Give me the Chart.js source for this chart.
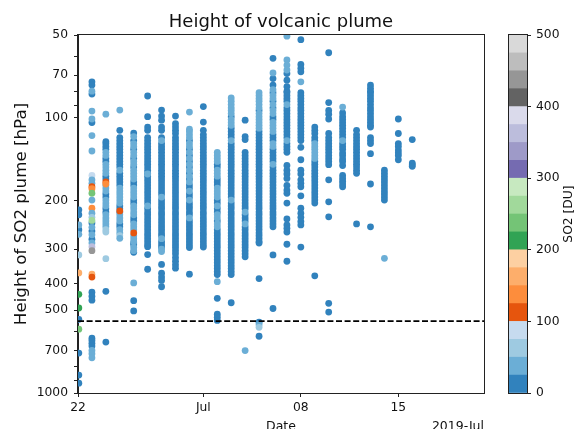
<!DOCTYPE html>
<html>
<head>
<meta charset="utf-8">
<script src="https://cdn.jsdelivr.net/npm/chart.js@4.4.1/dist/chart.umd.min.js"></script>
<style>
  html, body { margin: 0; padding: 0; background: #fff; }
  #wrap { position: relative; width: 575px; height: 429px; overflow: hidden; }
  #wrap canvas { position: absolute; left: 0; top: 0; }
</style>
</head>
<body>
<div id="wrap">
  <canvas id="plume" width="575" height="429"></canvas>
  <canvas id="cbar" width="575" height="429"></canvas>
</div>
<script>
// x = days since 2019-06-22, one column of retrievals per day
const dayTicks = [0, 9, 16, 23];
const dayTickLabels = ["22", "Jul", "08", "15"];
const dayMax = 29.15;

const hpaTicks = [50, 60, 70, 80, 90, 100, 200, 300, 400, 500, 600, 700, 800, 900, 1000];
const hpaLabels = [50, 70, 100, 200, 300, 400, 500, 700, 1000];
const cutoffHpa = 548;

// per day: dark = low-SO2 retrievals (hPa), tint = [hPa, SO2 DU] for the brighter ones
const jun22 = { dark: [216,225,255,540,716,861,921],
  tint: [[245,35],[265,35],[315,60],[366,160],[438,210],[491,210],[586,235]] };
const jun23 = { dark: [74,76,82,104,241,258,276,430,445,460,632,645,660,675],
  tint: [[80,35],[94.5,35],[101,35],[116,35],[132,35],[162,85],[168,35],[173,35],[178,110],[181,135],[188,235],[199,35],[213,135],[222,35],[230,60],[236,260],[250,35],[266,35],[285,35],[294,360],[304,440],[370,160],[379,110],[700,35],[720,35],[745,35]] };
const jun24 = { dark: [122,124,127,130,140.5,144,163,167,189,194,214,220,427,653],
  tint: [[97,35],[133.5,35],[137,35],[147.5,35],[151,35],[155,35],[159,35],[175.5,35],[180,35],[184.5,35],[199,35],[204,35],[209,35],[225,35],[231,35],[237,35],[243,35],[249,35],[255,60],[260,60],[171,110],[174,135],[325,60]] };
const jun25 = { dark: [111,118,121,124,127,130,133.5,137,140.5,144,147.5,151,159,163,167,171,175.5,209,214,220,243,249],
  tint: [[93.7,35],[155,35],[180,35],[184.5,35],[189,35],[194,35],[199,35],[204,35],[225,35],[231,35],[237,35],[255,35],[262,35],[268,60],[274,35],[218,110]] };
const jun26 = { dark: [113.6,121,130,140.5,151,171,175.5,199,204,231,237,285,289,308,462,503],
  tint: [[117,35],[124,35],[127,35],[133.5,35],[137,35],[144,35],[147.5,35],[155,35],[159,35],[163,35],[167,35],[180,35],[184.5,35],[189,35],[194,35],[209,35],[214,35],[220,35],[225,35],[243,35],[249,35],[255,35],[268,35],[275,35],[282,35],[296,35],[304,35],[262,110],[398,35]] };
const jun27 = { dark: [83.3,99,108,111,118,121,124,127,130,133.5,137,140.5,144,147.5,151,155,159,163,167,171,175.5,180,184.5,189,194,199,204,214,220,225,231,237,243,249,255,262,268,275,282,289,294,314,355],
  tint: [[209,35],[160,35]] };
const jun28 = { dark: [93.7,98.5,102,108,111,118,124,127,130,133.5,137,140.5,144,147.5,151,155,159,163,167,171,175.5,180,184.5,189,199,204,209,214,220,225,231,237,243,249,255,262,268,282,289,296,341,367,379,390,411],
  tint: [[121,35],[194,35],[275,35],[300,35],[306,35]] };
const jun29 = { dark: [98.5,105,108,111,114,118,121,124,127,130,133.5,137,140.5,144,147.5,151,155,159,163,167,171,175.5,180,184.5,189,194,199,204,209,214,220,225,231,237,243,249,255,262,268,275,282,289,296,304,312,322,332,342,352],
  tint: [] };
const jun30 = { dark: [121,130,137,144,151,159,167,175.5,180,189,194,204,209,214,220,225,237,243,249,255,262,268,275,282,289,296,370],
  tint: [[95.3,35],[110,35],[112,35],[115,35],[118,35],[124,35],[127,35],[133.5,35],[140.5,35],[147.5,35],[155,35],[163,35],[171,35],[184.5,35],[199,35],[231,35]] };
const jul01 = { dark: [91,103.6,111,115,118,121,124,127,130,133.5,137,140.5,144,147.5,151,155,159,163,167,171,175.5,180,184.5,189,194,199,204,209,214,220,225,231,237,243,249,255,262,268,275,282,289,295],
  tint: [] };
const jul02 = { dark: [147.5,151,167,171,175.5,199,204,214,220,237,255,262,268,275,282,289,296,304,312,320,328,336,345,353,362,371,453,517,530,545],
  tint: [[133.5,35],[137,35],[140.5,35],[144,35],[155,35],[159,35],[163,35],[180,35],[184.5,35],[189,35],[194,35],[209,35],[225,35],[231,35],[243,35],[249,35],[394,35]] };
const jul03 = { dark: [99,109,112,115,118,124,127,130,133.5,137,140.5,144,147.5,151,155,159,163,167,171,175.5,180,184.5,189,194,204,209,214,220,225,231,237,243,249,255,262,268,275,282,289,296,304,312,320,328,336,345,353,362,371,470],
  tint: [[84.7,35],[87,35],[89.5,35],[92,35],[94,35],[96.5,35],[101.5,35],[104,35],[106.5,35],[121,35],[199,35]] };
const jul04 = { dark: [102,117,120,133.5,137,140.5,144,147.5,151,155,159,163,167,171,175.5,180,184.5,189,194,199,204,209,214,225,231,237,249,255,262,268,275,282,289,296,304,312,320],
  tint: [[220,35],[243,35],[701,35]] };
const jul05 = { dark: [94,112,115,118,121,124,127,130,133.5,137,140.5,144,147.5,151,155,159,163,167,171,175.5,180,184.5,189,194,199,204,209,214,220,225,231,237,243,249,255,262,268,275,282,285,384,553,622],
  tint: [[81,35],[83,35],[85,35],[87,35],[89.5,35],[92,35],[96.5,35],[99,35],[101.5,35],[104,35],[106.5,35],[109,35],[565,35],[577,60]] };
const jul06 = { dark: [60.8,72,76,81,87,92,99,101.5,115,118,121,130,133.5,137,140.5,144,151,155,159,163,167,171,175.5,180,184.5,189,194,199,204,209,214,220,225,231,237,243,249,315,493],
  tint: [[68.7,35],[79,35],[83,35],[85,35],[89.5,35],[94,35],[96.5,35],[104,35],[106.5,35],[109,35],[112,35],[124,35],[127,35],[147.5,35]] };
const jul07 = { dark: [69,73,77,80,81,83,85,87,92,94,96.5,99,101.5,104,106.5,109,112,115,118,124,127,130,133.5,149,155,160,166,176,183,188,204,233,245,252,260,288,332],
  tint: [[50.5,35],[61.6,35],[64.3,35],[67,35],[89.5,35],[121,35]] };
const jul08 = { dark: [52,64,66,68,81,83,85,87,89.5,92,94,96.5,99,101.5,104,106.5,109,112,115,118,121,128,142,155,160,168,173,178,192,213,222,230,238,245,295],
  tint: [[74,35]] };
const jul09 = { dark: [108,111,114,118,121,144,147.5,151,155,159,163,167,171,175.5,180,184.5,189,194,199,204,375],
  tint: [[124,35],[127,35],[130,35],[133.5,35],[137,35],[140.5,35]] };
const jul10 = { dark: [58,88,94,97,101,114,118,121,124,127,130,133.5,137,140.5,144,148,168,202,229,472,508],
  tint: [] };
const jul11 = { dark: [96,99,101.5,104,106.5,109,112,115,118,124,127,130,134,137,141,144,149,162,166,170,174,178],
  tint: [[91.4,35],[121,35]] };
const jul12 = { dark: [111,115,118,121,124,127,130,133.5,137,140.5,144,147.5,151,155,159,243],
  tint: [] };
const jul13 = { dark: [76,78,80,81,83,85,87,89.5,92,94,96.5,99,101.5,104,106.5,108,118,121,124,135,174,249],
  tint: [] };
const jul14 = { dark: [155,159,163,167,171,175.5,180,184.5,189,194,199],
  tint: [[324,35]] };
const jul15 = { dark: [101,114,124,127,131,134,137,142], tint: [] };
const jul16 = { dark: [120,146,148,150], tint: [] };

const dayCols = [jun22, jun23, jun24, jun25, jun26, jun27, jun28, jun29, jun30,
  jul01, jul02, jul03, jul04, jul05, jul06, jul07, jul08, jul09, jul10,
  jul11, jul12, jul13, jul14, jul15, jul16];
const darkDu = 10;

// matplotlib tab20c, 25 DU per step
const tab20c = ["#3182bd","#6baed6","#9ecae1","#c6dbef","#e6550d","#fd8d3c","#fdae6b","#fdd0a2",
  "#31a354","#74c476","#a1d99b","#c7e9c0","#756bb1","#9e9ac8","#bcbddc","#dadaeb",
  "#636363","#969696","#bdbdbd","#d9d9d9"];
const so2Edges = [0,25,50,75,100,125,150,175,200,225,250,275,300,325,350,375,400,425,450,475,500];
const so2Colour = (du) => tab20c[Math.min(19, Math.floor(du / 25))];

const FONT = "DejaVu Sans";
const INK = "#111";

const dayX = (d) => (d === 0 ? 0.06 : d);
const points = [];
dayCols.forEach((col, d) => col.dark.forEach((hpa) => points.push({ x: dayX(d), y: hpa, du: darkDu })));
dayCols.forEach((col, d) => col.tint.forEach(([hpa, du]) => points.push({ x: dayX(d), y: hpa, du })));

const frame = {
  id: "frame",
  afterDatasetsDraw(chart) {
    const { ctx, chartArea: a } = chart;
    ctx.save();
    ctx.strokeStyle = "#222";
    ctx.lineWidth = 1;
    ctx.strokeRect(Math.round(a.left) - 0.5, Math.round(a.top) - 0.5, Math.round(a.right - a.left) + 1, Math.round(a.bottom - a.top) + 1);
    ctx.restore();
  },
  afterDraw(chart) {
    const { ctx, chartArea: a } = chart;
    ctx.save();
    ctx.fillStyle = INK;
    ctx.textAlign = "center";
    ctx.textBaseline = "alphabetic";
    ctx.font = "18px '" + FONT + "'";
    ctx.fillText("Height of volcanic plume", (a.left + a.right) / 2, 27.3);
    ctx.textAlign = "right";
    ctx.font = "12.5px '" + FONT + "'";
    ctx.fillText("2019-Jul", a.right, 429.5);
    ctx.restore();
  }
};

new Chart(document.getElementById("plume"), {
  type: "scatter",
  data: {
    datasets: [
      {
        data: points,
        pointRadius: 3.4,
        pointHoverRadius: 3.4,
        pointBorderWidth: 0,
        pointBackgroundColor: points.map((p) => so2Colour(p.du)),
        order: 1,
      },
      {
        type: "line",
        data: [{ x: 0, y: cutoffHpa }, { x: dayMax, y: cutoffHpa }],
        borderColor: "#000",
        borderWidth: 1.6,
        borderDash: [6, 2.6],
        pointRadius: 0,
        fill: false,
        order: 0,
      },
    ],
  },
  options: {
    responsive: false,
    animation: false,
    devicePixelRatio: 1,
    layout: { padding: { top: 35, right: 91, left: 0, bottom: 0 } },
    plugins: { legend: { display: false }, tooltip: { enabled: false } },
    scales: {
      x: {
        type: "linear",
        min: 0,
        max: dayMax,
        afterBuildTicks: (s) => { s.ticks = dayTicks.map((v) => ({ value: v })); },
        afterFit: (s) => { s.height = 36; },
        ticks: {
          callback: (v) => dayTickLabels[dayTicks.indexOf(v)],
          color: INK, font: { family: FONT, size: 12.3 }, padding: 3, maxRotation: 0, autoSkip: false,
        },
        grid: { drawOnChartArea: false, tickLength: 4, tickColor: "#222", color: "#222" },
        border: { color: "#222", width: 1 },
        title: { display: true, text: "Date", color: INK, font: { family: FONT, size: 12.5 }, padding: { top: 0, bottom: -5.5 } },
      },
      y: {
        type: "logarithmic",
        reverse: true,
        min: 50,
        max: 1000,
        afterBuildTicks: (s) => { s.ticks = hpaTicks.map((v) => ({ value: v })); },
        afterFit: (s) => { s.width = 78; },
        ticks: {
          callback: (v) => (hpaLabels.includes(v) ? String(v) : ""),
          color: INK, font: { family: FONT, size: 12.3 }, padding: 6, autoSkip: false,
        },
        grid: { drawOnChartArea: false, tickLength: 4, tickColor: "#222", color: "#222" },
        border: { color: "#222", width: 1 },
        title: { display: true, text: "Height of SO2 plume [hPa]", color: INK, font: { family: FONT, size: 16.7 }, padding: { top: 12, bottom: 0 } },
      },
    },
  },
  plugins: [frame],
});

// colour bar
const cbarFrame = {
  id: "cbarFrame",
  afterDatasetsDraw(chart) {
    const { ctx, chartArea: a } = chart;
    ctx.save();
    ctx.strokeStyle = "#222";
    ctx.lineWidth = 1;
    ctx.strokeRect(Math.round(a.left) - 0.5, Math.round(a.top) - 0.5, Math.round(a.right - a.left) + 1, Math.round(a.bottom - a.top) + 1);
    ctx.translate(569, (a.top + a.bottom) / 2);
    ctx.rotate(-Math.PI / 2);
    ctx.fillStyle = INK;
    ctx.textAlign = "center";
    ctx.textBaseline = "middle";
    ctx.font = "12.3px '" + FONT + "'";
    ctx.fillText("SO2 [DU]", 0, 0);
    ctx.restore();
  },
};

new Chart(document.getElementById("cbar"), {
  type: "bar",
  data: {
    labels: [""],
    datasets: tab20c.map((c, i) => ({
      data: [[so2Edges[i], so2Edges[i + 1]]],
      backgroundColor: c,
      borderWidth: 0,
      barPercentage: 1,
      categoryPercentage: 1,
      grouped: false,
    })),
  },
  options: {
    responsive: false,
    animation: false,
    devicePixelRatio: 1,
    layout: { padding: { left: 509, top: 35, bottom: 36, right: 0 } },
    plugins: { legend: { display: false }, tooltip: { enabled: false } },
    scales: {
      x: { display: false },
      y: {
        position: "right",
        min: 0,
        max: 500,
        afterFit: (s) => { s.width = 48; },
        ticks: { stepSize: 100, color: INK, font: { family: FONT, size: 12.3 }, padding: 5 },
        grid: { drawOnChartArea: false, tickLength: 4, tickColor: "#222", color: "#222" },
        border: { color: "#222", width: 1 },
      },
    },
  },
  plugins: [cbarFrame],
});
</script>
</body>
</html>
